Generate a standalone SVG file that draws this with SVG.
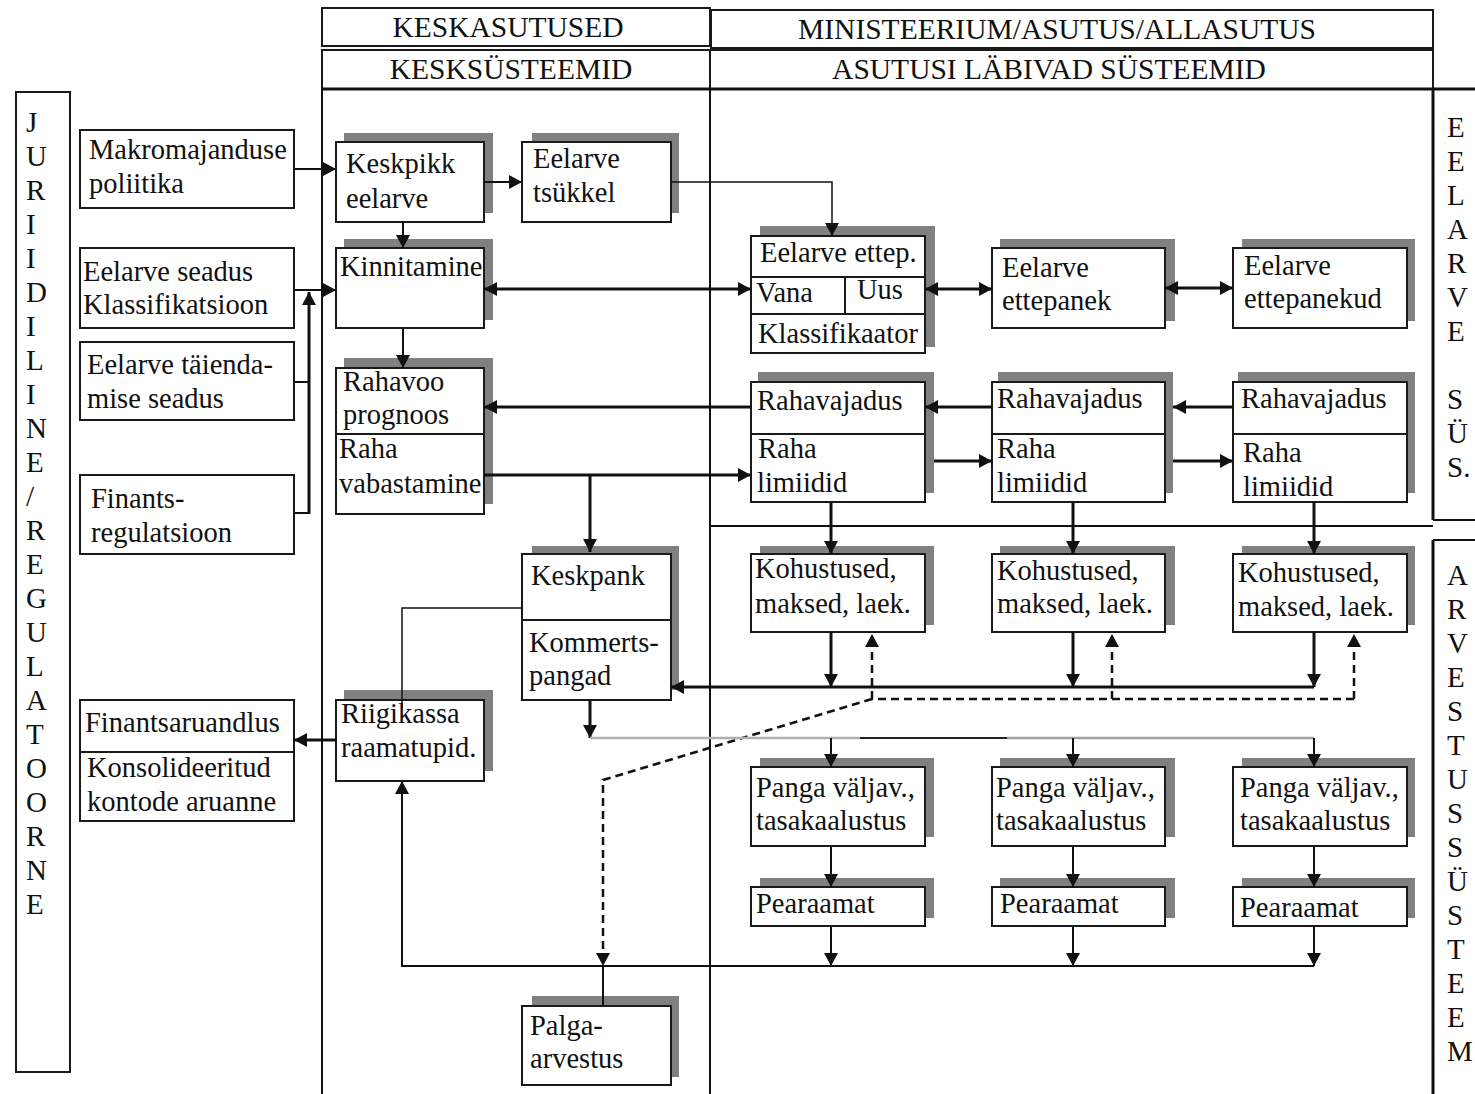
<svg xmlns="http://www.w3.org/2000/svg" width="1475" height="1094" viewBox="0 0 1475 1094">
<defs>
<style>
.t{font-family:"Liberation Serif","Times New Roman",serif;font-size:28.5px;fill:#111}
.h{font-family:"Liberation Serif","Times New Roman",serif;font-size:29.5px;fill:#111;text-anchor:middle}
.v{font-family:"Liberation Serif","Times New Roman",serif;font-size:29px;fill:#111}
.sh{fill:#808080}
.bx{fill:#fff;stroke:#1a1a1a;stroke-width:2}
.dv{stroke:#1a1a1a;stroke-width:2;fill:none}
.fr{fill:none;stroke:#1a1a1a;stroke-width:2}
.c{fill:none;stroke:#111;stroke-width:2}
.c1{fill:none;stroke:#111;stroke-width:1.5}
.k{fill:none;stroke:#111;stroke-width:3}
.d{fill:none;stroke:#111;stroke-width:2.5;stroke-dasharray:8,5}
</style>
<marker id="ah" viewBox="0 0 13 14" markerWidth="13" markerHeight="14" refX="13" refY="7" orient="auto-start-reverse" markerUnits="userSpaceOnUse">
<path d="M0,0 L13,7 L0,14 z" fill="#111"/>
</marker>
</defs>
<rect width="1475" height="1094" fill="#fff"/>

<g id="frame">
<rect class="fr" x="322" y="8" width="388" height="38"/>
<rect class="fr" x="711" y="10" width="722" height="38"/>
<rect class="fr" x="322" y="50" width="388" height="39"/>
<rect class="fr" x="710" y="50" width="723" height="39"/>
<line x1="322" y1="89" x2="1475" y2="89" stroke="#111" stroke-width="3"/>
<line x1="322" y1="89" x2="322" y2="1094" stroke="#111" stroke-width="2"/>
<line x1="710" y1="89" x2="710" y2="1094" stroke="#111" stroke-width="2"/>
<line x1="1433" y1="89" x2="1433" y2="520" stroke="#111" stroke-width="3"/>
<line x1="1433" y1="520" x2="1475" y2="520" stroke="#111" stroke-width="2"/>
<line x1="1433" y1="540" x2="1475" y2="540" stroke="#111" stroke-width="2"/>
<line x1="1433" y1="540" x2="1433" y2="1094" stroke="#111" stroke-width="3"/>
<line x1="710" y1="526" x2="1433" y2="526" stroke="#111" stroke-width="2"/>
<rect class="fr" x="16" y="92" width="54" height="980"/>
<text class="h" x="508" y="37">KESKASUTUSED</text>
<text class="h" x="1057" y="39">MINISTEERIUM/ASUTUS/ALLASUTUS</text>
<text class="h" x="511" y="79">KESKSÜSTEEMID</text>
<text class="h" x="1049" y="79">ASUTUSI LÄBIVAD SÜSTEEMID</text>
<text class="v"><tspan x="26" y="132">J</tspan><tspan x="26" dy="34">U</tspan><tspan x="26" dy="34">R</tspan><tspan x="26" dy="34">I</tspan><tspan x="26" dy="34">I</tspan><tspan x="26" dy="34">D</tspan><tspan x="26" dy="34">I</tspan><tspan x="26" dy="34">L</tspan><tspan x="26" dy="34">I</tspan><tspan x="26" dy="34">N</tspan><tspan x="26" dy="34">E</tspan><tspan x="26" dy="34">/</tspan><tspan x="26" dy="34">R</tspan><tspan x="26" dy="34">E</tspan><tspan x="26" dy="34">G</tspan><tspan x="26" dy="34">U</tspan><tspan x="26" dy="34">L</tspan><tspan x="26" dy="34">A</tspan><tspan x="26" dy="34">T</tspan><tspan x="26" dy="34">O</tspan><tspan x="26" dy="34">O</tspan><tspan x="26" dy="34">R</tspan><tspan x="26" dy="34">N</tspan><tspan x="26" dy="34">E</tspan></text>
<text class="v"><tspan x="1447" y="137">E</tspan><tspan x="1447" dy="34">E</tspan><tspan x="1447" dy="34">L</tspan><tspan x="1447" dy="34">A</tspan><tspan x="1447" dy="34">R</tspan><tspan x="1447" dy="34">V</tspan><tspan x="1447" dy="34">E</tspan><tspan x="1447" y="409">S</tspan><tspan x="1447" dy="34">Ü</tspan><tspan x="1447" dy="34">S.</tspan></text>
<text class="v"><tspan x="1447" y="585">A</tspan><tspan x="1447" dy="34">R</tspan><tspan x="1447" dy="34">V</tspan><tspan x="1447" dy="34">E</tspan><tspan x="1447" dy="34">S</tspan><tspan x="1447" dy="34">T</tspan><tspan x="1447" dy="34">U</tspan><tspan x="1447" dy="34">S</tspan><tspan x="1447" dy="34">S</tspan><tspan x="1447" dy="34">Ü</tspan><tspan x="1447" dy="34">S</tspan><tspan x="1447" dy="34">T</tspan><tspan x="1447" dy="34">E</tspan><tspan x="1447" dy="34">E</tspan><tspan x="1447" dy="34">M</tspan></text>
</g>

<g id="makromajandus">
<rect class="bx" x="80" y="130" width="214" height="78"/>
<text class="t" x="89" y="159">Makromajanduse</text>
<text class="t" x="89" y="193">poliitika</text>
</g>
<g id="eelarve-seadus">
<rect class="bx" x="80" y="248" width="214" height="80"/>
<text class="t" x="83" y="281">Eelarve seadus</text>
<text class="t" x="83" y="314">Klassifikatsioon</text>
</g>
<g id="taiendamise-seadus">
<rect class="bx" x="80" y="342" width="214" height="78"/>
<text class="t" x="87" y="374">Eelarve täienda-</text>
<text class="t" x="87" y="408">mise seadus</text>
</g>
<g id="finantsregulatsioon">
<rect class="bx" x="80" y="475" width="214" height="79"/>
<text class="t" x="91" y="508">Finants-</text>
<text class="t" x="91" y="542">regulatsioon</text>
</g>
<g id="finantsaruandlus">
<rect class="bx" x="80" y="700" width="214" height="121"/>
<line class="dv" x1="80" y1="752" x2="294" y2="752"/>
<text class="t" x="85" y="732">Finantsaruandlus</text>
<text class="t" x="87" y="777">Konsolideeritud</text>
<text class="t" x="87" y="811">kontode aruanne</text>
</g>

<g id="keskpikk">
<rect class="sh" x="344" y="133" width="149" height="80"/>
<rect class="bx" x="336" y="142" width="148" height="80"/>
<text class="t" x="346" y="173">Keskpikk</text>
<text class="t" x="346" y="208">eelarve</text>
</g>
<g id="tsukkel">
<rect class="sh" x="532" y="133" width="147" height="80"/>
<rect class="bx" x="522" y="142" width="149" height="80"/>
<text class="t" x="533" y="168">Eelarve</text>
<text class="t" x="533" y="202">tsükkel</text>
</g>
<g id="kinnitamine">
<rect class="sh" x="344" y="239" width="149" height="81"/>
<rect class="bx" x="336" y="248" width="148" height="80"/>
<text class="t" x="340" y="276">Kinnitamine</text>
</g>
<g id="eelarve-ettep">
<rect class="sh" x="760" y="226" width="175" height="121"/>
<rect class="bx" x="751" y="236" width="174" height="117"/>
<line class="dv" x1="751" y1="277" x2="925" y2="277"/>
<line class="dv" x1="751" y1="314" x2="925" y2="314"/>
<line class="dv" x1="845" y1="277" x2="845" y2="314"/>
<text class="t" x="760" y="262">Eelarve ettep.</text>
<text class="t" x="756" y="302">Vana</text>
<text class="t" x="857" y="299">Uus</text>
<text class="t" x="758" y="343">Klassifikaator</text>
</g>
<g id="eelarve-ettepanek">
<rect class="sh" x="1000" y="239" width="175" height="82"/>
<rect class="bx" x="992" y="248" width="173" height="80"/>
<text class="t" x="1002" y="277">Eelarve</text>
<text class="t" x="1002" y="310">ettepanek</text>
</g>
<g id="eelarve-ettepanekud">
<rect class="sh" x="1242" y="239" width="173" height="82"/>
<rect class="bx" x="1233" y="248" width="174" height="80"/>
<text class="t" x="1244" y="275">Eelarve</text>
<text class="t" x="1244" y="308">ettepanekud</text>
</g>
<g id="rahavoo">
<rect class="sh" x="344" y="358" width="149" height="146"/>
<rect class="bx" x="336" y="368" width="148" height="146"/>
<line class="dv" x1="336" y1="434" x2="484" y2="434"/>
<text class="t" x="343" y="391">Rahavoo</text>
<text class="t" x="343" y="424">prognoos</text>
<text class="t" x="339" y="458">Raha</text>
<text class="t" x="339" y="493">vabastamine</text>
</g>
<g id="rahavajadus-1">
<rect class="sh" x="758" y="372" width="176" height="121"/>
<rect class="bx" x="751" y="382" width="174" height="120"/>
<line class="dv" x1="751" y1="434" x2="925" y2="434"/>
<text class="t" x="757" y="410">Rahavajadus</text>
<text class="t" x="758" y="458">Raha</text>
<text class="t" x="757" y="492">limiidid</text>
</g>
<g id="rahavajadus-2">
<rect class="sh" x="998" y="372" width="175" height="121"/>
<rect class="bx" x="992" y="382" width="173" height="120"/>
<line class="dv" x1="992" y1="434" x2="1165" y2="434"/>
<text class="t" x="997" y="408">Rahavajadus</text>
<text class="t" x="997" y="458">Raha</text>
<text class="t" x="997" y="492">limiidid</text>
</g>
<g id="rahavajadus-3">
<rect class="sh" x="1238" y="372" width="177" height="121"/>
<rect class="bx" x="1233" y="382" width="174" height="120"/>
<line class="dv" x1="1233" y1="434" x2="1407" y2="434"/>
<text class="t" x="1241" y="408">Rahavajadus</text>
<text class="t" x="1243" y="462">Raha</text>
<text class="t" x="1243" y="496">limiidid</text>
</g>
<g id="keskpank">
<rect class="sh" x="532" y="546" width="147" height="144"/>
<rect class="bx" x="522" y="554" width="149" height="146"/>
<line class="dv" x1="522" y1="620" x2="671" y2="620"/>
<text class="t" x="531" y="585">Keskpank</text>
<text class="t" x="529" y="652">Kommerts-</text>
<text class="t" x="529" y="685">pangad</text>
</g>
<g id="kohustused-1">
<rect class="sh" x="760" y="546" width="174" height="79"/>
<rect class="bx" x="751" y="554" width="174" height="78"/>
<text class="t" x="755" y="578">Kohustused,</text>
<text class="t" x="755" y="613">maksed, laek.</text>
</g>
<g id="kohustused-2">
<rect class="sh" x="1000" y="546" width="175" height="79"/>
<rect class="bx" x="992" y="554" width="173" height="78"/>
<text class="t" x="997" y="580">Kohustused,</text>
<text class="t" x="997" y="613">maksed, laek.</text>
</g>
<g id="kohustused-3">
<rect class="sh" x="1242" y="546" width="173" height="79"/>
<rect class="bx" x="1233" y="554" width="174" height="78"/>
<text class="t" x="1238" y="582">Kohustused,</text>
<text class="t" x="1238" y="616">maksed, laek.</text>
</g>
<g id="riigikassa">
<rect class="sh" x="344" y="690" width="149" height="81"/>
<rect class="bx" x="336" y="700" width="148" height="81"/>
<text class="t" x="341" y="723">Riigikassa</text>
<text class="t" x="341" y="757">raamatupid.</text>
</g>
<g id="panga-1">
<rect class="sh" x="760" y="758" width="174" height="79"/>
<rect class="bx" x="751" y="767" width="174" height="79"/>
<text class="t" x="756" y="797">Panga väljav.,</text>
<text class="t" x="756" y="830">tasakaalustus</text>
</g>
<g id="panga-2">
<rect class="sh" x="1000" y="758" width="175" height="79"/>
<rect class="bx" x="992" y="767" width="173" height="79"/>
<text class="t" x="996" y="797">Panga väljav.,</text>
<text class="t" x="996" y="830">tasakaalustus</text>
</g>
<g id="panga-3">
<rect class="sh" x="1242" y="758" width="173" height="79"/>
<rect class="bx" x="1233" y="767" width="174" height="79"/>
<text class="t" x="1240" y="797">Panga väljav.,</text>
<text class="t" x="1240" y="830">tasakaalustus</text>
</g>
<g id="pearaamat-1">
<rect class="sh" x="760" y="878" width="174" height="40"/>
<rect class="bx" x="751" y="887" width="174" height="39"/>
<text class="t" x="756" y="913">Pearaamat</text>
</g>
<g id="pearaamat-2">
<rect class="sh" x="1000" y="878" width="175" height="40"/>
<rect class="bx" x="992" y="887" width="173" height="39"/>
<text class="t" x="1000" y="913">Pearaamat</text>
</g>
<g id="pearaamat-3">
<rect class="sh" x="1242" y="878" width="173" height="40"/>
<rect class="bx" x="1233" y="887" width="174" height="39"/>
<text class="t" x="1240" y="917">Pearaamat</text>
</g>
<g id="palgaarvestus">
<rect class="sh" x="532" y="996" width="147" height="81"/>
<rect class="bx" x="522" y="1006" width="149" height="79"/>
<text class="t" x="530" y="1035">Palga-</text>
<text class="t" x="530" y="1068">arvestus</text>
</g>

<g id="connectors">
<path class="c" d="M294,169 H336" marker-end="url(#ah)"/>
<path class="c" d="M294,290 H336" marker-end="url(#ah)"/>
<path class="c" d="M294,382 H309"/>
<path class="c" d="M294,513 H309"/>
<path class="k" d="M309,514 V292" marker-end="url(#ah)"/>
<path class="c" d="M403,222 V248" marker-end="url(#ah)"/>
<path class="c" d="M484,182 H522" marker-end="url(#ah)"/>
<path class="c1" d="M671,182 H832 V236" marker-end="url(#ah)"/>
<path class="k" d="M484,289 H751" marker-start="url(#ah)" marker-end="url(#ah)"/>
<path class="c" d="M403,328 V368" marker-end="url(#ah)"/>
<path class="k" d="M925,289 H992" marker-start="url(#ah)" marker-end="url(#ah)"/>
<path class="k" d="M1165,288 H1233" marker-start="url(#ah)" marker-end="url(#ah)"/>
<path class="k" d="M751,407 H484" marker-end="url(#ah)"/>
<path class="k" d="M992,407 H925" marker-end="url(#ah)"/>
<path class="k" d="M1233,407 H1173" marker-end="url(#ah)"/>
<path class="k" d="M484,475 H751" marker-end="url(#ah)"/>
<path class="k" d="M590,475 V552" marker-end="url(#ah)"/>
<path class="k" d="M934,461 H992" marker-end="url(#ah)"/>
<path class="k" d="M1173,461 H1233" marker-end="url(#ah)"/>
<path class="k" d="M831,502 V554" marker-end="url(#ah)"/>
<path class="k" d="M1073,502 V554" marker-end="url(#ah)"/>
<path class="k" d="M1314,502 V554" marker-end="url(#ah)"/>
<path class="k" d="M831,632 V687" marker-end="url(#ah)"/>
<path class="k" d="M1073,632 V687" marker-end="url(#ah)"/>
<path class="k" d="M1314,632 V687" marker-end="url(#ah)"/>
<path class="k" d="M1314,687 H671" marker-end="url(#ah)"/>
<path class="d" d="M1354,699 H872"/>
<path class="d" d="M872,699 V634" marker-end="url(#ah)"/>
<path class="d" d="M1112,699 V634" marker-end="url(#ah)"/>
<path class="d" d="M1354,699 V634" marker-end="url(#ah)"/>
<path class="d" d="M872,699 L603,780 V966" marker-end="url(#ah)"/>
<path class="c" d="M603,966 V1006"/>
<path class="k" d="M590,700 V738" marker-end="url(#ah)"/>
<path d="M590,738 H860" stroke="#b0b0b0" stroke-width="2.5" fill="none"/>
<path d="M860,738 H1007" stroke="#222" stroke-width="2" fill="none"/>
<path d="M1007,738 H1314" stroke="#a0a0a0" stroke-width="2.5" fill="none"/>
<path class="c" d="M831,738 V767" marker-end="url(#ah)"/>
<path class="c" d="M1073,738 V767" marker-end="url(#ah)"/>
<path class="c" d="M1314,738 V767" marker-end="url(#ah)"/>
<path class="c" d="M831,846 V887" marker-end="url(#ah)"/>
<path class="c" d="M1073,846 V887" marker-end="url(#ah)"/>
<path class="c" d="M1314,846 V887" marker-end="url(#ah)"/>
<path class="c" d="M831,926 V966" marker-end="url(#ah)"/>
<path class="c" d="M1073,926 V966" marker-end="url(#ah)"/>
<path class="c" d="M1314,926 V966" marker-end="url(#ah)"/>
<path class="c" d="M1314,966 H402 V781" marker-end="url(#ah)"/>
<path class="c1" d="M522,608 H402 V708"/>
<path class="k" d="M336,740 H294" marker-end="url(#ah)"/>
</g>
</svg>
